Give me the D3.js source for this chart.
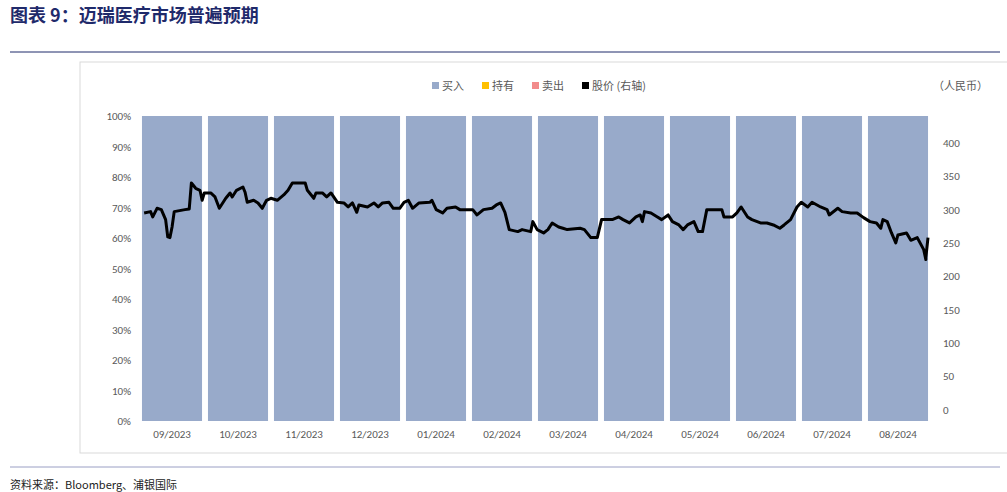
<!DOCTYPE html>
<html><head><meta charset="utf-8">
<script src="https://cdn.jsdelivr.net/npm/d3@7"></script>
<style>
body{margin:0;background:#fff;font-family:"Noto Sans CJK SC","Noto Sans",sans-serif;}
</style></head>
<body><svg id="chart" width="1007" height="492"></svg>
<script>
// Monthly rating share (buy / hold / sell) and daily price
const months = ["09/2023","10/2023","11/2023","12/2023","01/2024","02/2024","03/2024","04/2024","05/2024","06/2024","07/2024","08/2024"];
const buyShare = [1,1,1,1,1,1,1,1,1,1,1,1];
const holdShare = [0,0,0,0,0,0,0,0,0,0,0,0];
const sellShare = [0,0,0,0,0,0,0,0,0,0,0,0];
// days since 2023-09-01
const dayOffsets = [1,4,5,7,9,11,12,13,14,15,20,22,23,25,27,28,29,32,34,36,39,41,42,44,47,48,49,52,54,56,58,60,63,66,68,70,76,77,80,81,84,86,88,91,94,96,98,100,101,105,108,110,112,115,117,120,122,124,126,129,134,135,137,140,142,146,148,151,154,156,159,163,165,167,169,171,175,177,181,182,184,187,189,191,194,196,198,204,206,209,212,214,217,219,222,224,227,230,232,233,234,237,240,242,245,247,250,252,254,257,259,261,263,270,271,275,277,279,282,284,288,291,294,297,299,302,305,307,310,312,316,319,320,324,326,330,333,336,339,342,344,345,347,349,351,352,356,358,361,364,365,365.5,366];
const price = [295,297,289,302,300,285,259,258,274,297,300,301,340,332,329,314,325,325,319,302,317,325,319,329,334,326,311,314,310,302,314,317,314,322,329,340,340,329,317,325,325,319,325,311,310,304,310,296,307,304,310,304,310,311,302,302,311,314,302,310,311,314,300,295,302,304,300,300,300,292,300,302,307,310,296,270,267,270,267,282,270,265,270,280,274,272,270,272,270,258,258,285,285,285,289,285,280,289,292,282,297,295,289,285,292,282,277,270,277,282,267,267,300,300,289,289,295,304,289,285,280,280,277,272,277,285,304,311,304,311,304,300,292,302,297,295,295,288,282,280,272,285,282,265,250,262,265,254,258,240,225,228,258];
const leftTicks = [0,0.1,0.2,0.3,0.4,0.5,0.6,0.7,0.8,0.9,1];
const rightTicks = [0,50,100,150,200,250,300,350,400];

const svg = d3.select("#chart");
const navy = "#1F2A6B";

// Title and rules
svg.append("text").attr("x", 10).attr("y", 22).attr("fill", navy)
  .style("font-size", "18px").style("font-weight", "bold").text("图表 9：迈瑞医疗市场普遍预期");
svg.append("line").attr("x1", 10).attr("x2", 1000).attr("y1", 52).attr("y2", 52).attr("stroke", navy).attr("stroke-width", 1);
svg.append("line").attr("x1", 10).attr("x2", 1000).attr("y1", 467).attr("y2", 467).attr("stroke", "#9A9FC4").attr("stroke-width", 1);
svg.append("text").attr("x", 10).attr("y", 489).attr("fill", "#222")
  .style("font-size", "11px").text("资料来源：Bloomberg、浦银国际");
// frame
svg.append("rect").attr("x", 80).attr("y", 62).attr("width", 940).attr("height", 391)
  .attr("fill", "none").attr("stroke", "#D9D9D9");

const plotLeft = 142, plotRight = 928, plotTop = 116, plotBottom = 421;
const x = d3.scaleBand().domain(months).range([plotLeft - 3, plotRight + 3]).paddingInner(0.09).paddingOuter(0.045);
const y = d3.scaleLinear().domain([0, 1]).range([plotBottom, plotTop]);
const y2 = d3.scaleLinear().domain([0, 400]).range([409.5, 143]);
const t = d3.scaleTime().domain([new Date(2023, 8, 1), new Date(2024, 8, 1)]).range([plotLeft, plotRight]);

// stacked bars
const stackData = months.map((m, i) => ({month: m, buy: buyShare[i], hold: holdShare[i], sell: sellShare[i]}));
const series = d3.stack().keys(["buy", "hold", "sell"])(stackData);
const colors = {buy: "#98AACA", hold: "#FFC000", sell: "#F28B8B"};
svg.append("g").selectAll("g").data(series).join("g").attr("fill", s => colors[s.key])
  .selectAll("rect").data(s => s).join("rect")
  .attr("x", d => x(d.data.month)).attr("width", x.bandwidth())
  .attr("y", d => y(d[1])).attr("height", d => y(d[0]) - y(d[1]));

// axes
const gl = svg.append("g").attr("transform", `translate(${plotLeft - 8},0)`)
  .call(d3.axisLeft(y).tickValues(leftTicks).tickFormat(d3.format(".0%")).tickSize(0));
const gr = svg.append("g").attr("transform", `translate(${plotRight + 12},0)`)
  .call(d3.axisRight(y2).tickValues(rightTicks).tickSize(0));
const gb = svg.append("g").attr("transform", `translate(0,${plotBottom + 4})`)
  .call(d3.axisBottom(x).tickSize(0));
[gl, gr, gb].forEach(g => {
  g.select(".domain").remove();
  g.selectAll("text").attr("fill", "#595959").style("font-size", "11px").style("font-family", "Calibri,'Liberation Sans','Noto Sans',sans-serif");
});
gb.selectAll("text").attr("dy", "0.9em");

// price line
svg.append("path").datum(dayOffsets.map((d, i) => ({date: new Date(2023, 8, 1 + d), v: price[i]})))
  .attr("fill", "none").attr("stroke", "#000").attr("stroke-width", 3).attr("stroke-linejoin", "round")
  .attr("d", d3.line().x(d => t(d.date)).y(d => y2(d.v)));

// legend
const legend = [["买入", colors.buy], ["持有", colors.hold], ["卖出", colors.sell], ["股价 (右轴)", "#000"]];
let lx = 432;
legend.forEach(([label, c]) => {
  svg.append("rect").attr("x", lx).attr("y", 82).attr("width", 7).attr("height", 7).attr("fill", c);
  const tx = svg.append("text").attr("x", lx + 10).attr("y", 90).attr("fill", "#595959")
    .style("font-size", "11px").text(label);
  lx += tx.node().getComputedTextLength() + 28;
});
svg.append("text").attr("x", 988).attr("y", 90).attr("text-anchor", "end").attr("fill", "#595959")
  .style("font-size", "11px").text("（人民币）");
</script></body></html>
